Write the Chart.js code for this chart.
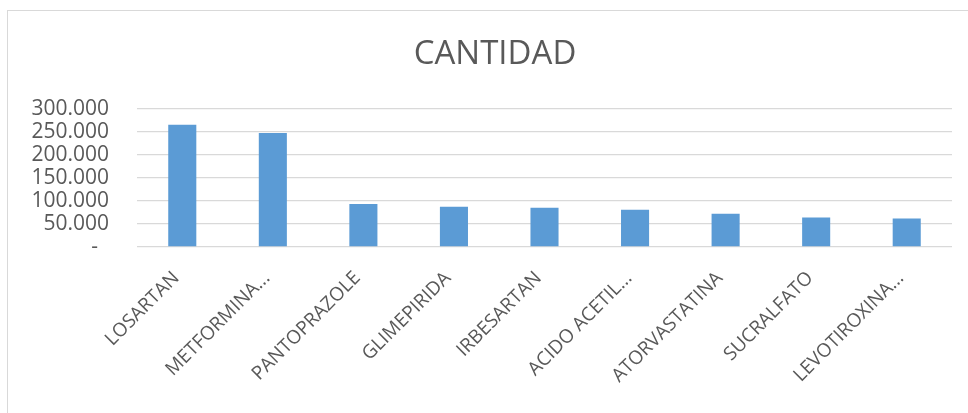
<!DOCTYPE html>
<html>
<head>
<meta charset="utf-8">
<script src="https://cdn.jsdelivr.net/npm/chart.js@4.4.1/dist/chart.umd.min.js"></script>
<style>
    html, body { margin: 0; padding: 0; background: #fff; }
    body { width: 968px; height: 413px; position: relative; overflow: hidden; }
    #frame {
        position: absolute; left: 7px; top: 10px; width: 1100px; height: 600px;
        border-left: 1px solid #d9d9d9; border-top: 1px solid #d9d9d9;
    }
    /* the chart box is wider than the window: its right part is cut off like in the picture */
    #wrap { position: absolute; left: 0; top: 0; width: 990px; height: 413px; }
</style>
</head>
<body>
<div id="frame"></div>
<div id="wrap"><canvas id="chart"></canvas></div>
<script>
const categories = ["LOSARTAN", "METFORMINA...", "PANTOPRAZOLE", "GLIMEPIRIDA", "IRBESARTAN",
    "ACIDO ACETIL...", "ATORVASTATINA", "SUCRALFATO", "LEVOTIROXINA..."];
const cantidad = [265000, 247000, 93000, 87000, 85000, 81000, 72000, 64000, 62000];
const yTicks = [0, 50000, 100000, 150000, 200000, 250000, 300000];

const textColor = "#595959";
const gridColor = "#d9d9d9";

function formatThousands(v) {
    if (v === 0) return "-  ";
    return String(v).replace(/\B(?=(\d{3})+(?!\d))/g, ".");
}

const ctx = document.getElementById('chart').getContext('2d');
let chart = new Chart(ctx, {
    type: "bar",
    data: {
        labels: categories,
        datasets: [{
            label: "CANTIDAD",
            data: cantidad,
            yAxisID: "y",
            backgroundColor: "#5b9bd5",
            borderWidth: 0,
            categoryPercentage: 1.0,
            barPercentage: 0.31
        }]
    },
    options: {
        responsive: true,
        maintainAspectRatio: false,
        animation: false,
        layout: { padding: 0 },
        plugins: {
            legend: { display: false },
            tooltip: { enabled: false },
            title: {
                display: true,
                text: "CANTIDAD",
                color: textColor,
                font: { family: "'Open Sans', sans-serif", size: 33, weight: 'normal', lineHeight: 1.2 },
                padding: { top: 35, bottom: 34 }
            }
        },
        scales: {
            x: {
                grid: { display: false, drawTicks: false },
                border: { display: false },
                ticks: {
                    color: textColor,
                    font: { family: "'Open Sans', sans-serif", size: 19 },
                    minRotation: 45,
                    maxRotation: 45,
                    autoSkip: false,
                    padding: 20,
                    labelOffset: -6
                },
                afterFit(axis) { axis.height = 413 - 247; }
            },
            y: {
                position: "left",
                min: 0,
                max: 300000,
                afterBuildTicks(axis) { axis.ticks = yTicks.map(v => ({ value: v })); },
                grid: { color: gridColor, lineWidth: 1.3, drawTicks: false },
                border: { display: false },
                ticks: {
                    color: textColor,
                    font: { family: "'Open Sans', sans-serif", size: 21 },
                    padding: 28,
                    autoSkip: false,
                    callback: (v) => formatThousands(v)
                },
                afterFit(axis) { axis.width = 137; }
            },
            // empty right margin of the plot
            yRight: {
                position: "right",
                grid: { display: false, drawTicks: false },
                border: { display: false },
                ticks: { display: false },
                afterFit(axis) { axis.width = 990 - 952; }
            }
        }
    }
});
</script>
</body>
</html>
